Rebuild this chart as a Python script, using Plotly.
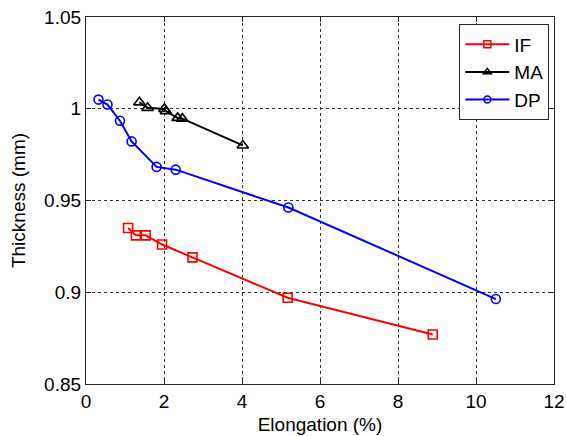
import plotly.graph_objects as go

# Data
if_x = [1.08, 1.28, 1.53, 1.95, 2.73, 5.17, 8.89]
if_y = [0.935, 0.931, 0.931, 0.926, 0.919, 0.897, 0.877]

ma_x = [1.37, 1.58, 2.01, 2.05, 2.35, 2.47, 4.02]
ma_y = [1.0035, 1.0005, 0.9999, 0.9986, 0.995, 0.9946, 0.980]

dp_x = [0.32, 0.55, 0.87, 1.17, 1.81, 2.30, 5.19, 10.51]
dp_y = [1.005, 1.0023, 0.9935, 0.9822, 0.9683, 0.9668, 0.9462, 0.8963]

x_ticks = [0, 2, 4, 6, 8, 10, 12]
x_ticktext = ["0", "2", "4", "6", "8", "10", "12"]
y_ticks = [0.85, 0.9, 0.95, 1.0, 1.05]
y_ticktext = ["0.85", "0.9", "0.95", "1", "1.05"]

series = [
    ("IF", if_x, if_y, "#ff0000", "square-open", 9),
    ("MA", ma_x, ma_y, "#000000", "triangle-up-open", 10),
    ("DP", dp_x, dp_y, "#0000ff", "circle-open", 9),
]

FONT = "Liberation Sans, Arial, sans-serif"

fig = go.Figure()
for name, xs, ys, col, sym, sz in series:
    fig.add_trace(go.Scatter(x=xs, y=ys, name=name, mode="lines+markers", showlegend=False,
                             line=dict(color=col, width=2),
                             marker=dict(symbol=sym, size=sz, color=col, line=dict(width=1.6))))
for name, xs, ys, col, sym, sz in series:
    # legend-only entry with the small legend marker of the reference
    fig.add_trace(go.Scatter(x=[None], y=[None], name=name, mode="lines+markers",
                             line=dict(color=col, width=2),
                             marker=dict(symbol=sym, size=7, color=col, line=dict(width=1.5))))

axis_common = dict(
    showline=True, linecolor="#262626", linewidth=1.3, mirror="ticks",
    ticks="inside", ticklen=5, tickcolor="#262626",
    showgrid=True, gridcolor="#333333", griddash="dot", gridwidth=1,
    zeroline=False, automargin=False,
    tickfont=dict(family=FONT, size=19, color="#000000"),
)

fig.update_layout(
    width=566, height=436,
    margin=dict(l=86, r=12, t=17, b=52),
    paper_bgcolor="white", plot_bgcolor="white",
    font=dict(family=FONT, color="#000000"),
    xaxis=dict(range=[0, 12], tickvals=x_ticks, ticktext=x_ticktext,
               title=dict(text="Elongation (%)", font=dict(size=19, family=FONT, color="#000000"),
                          standoff=6),
               **axis_common),
    yaxis=dict(range=[0.85, 1.05], tickvals=y_ticks, ticktext=y_ticktext,
               title=dict(text="Thickness (mm)", font=dict(size=19, family=FONT, color="#000000"),
                          standoff=13),
               **axis_common),
    legend=dict(x=0.99, y=0.98, xanchor="right", yanchor="top",
                bordercolor="#262626", borderwidth=1, bgcolor="white",
                font=dict(family=FONT, size=19), tracegroupgap=0, itemwidth=44),
    showlegend=True,
)

fig.write_html("out.html")
